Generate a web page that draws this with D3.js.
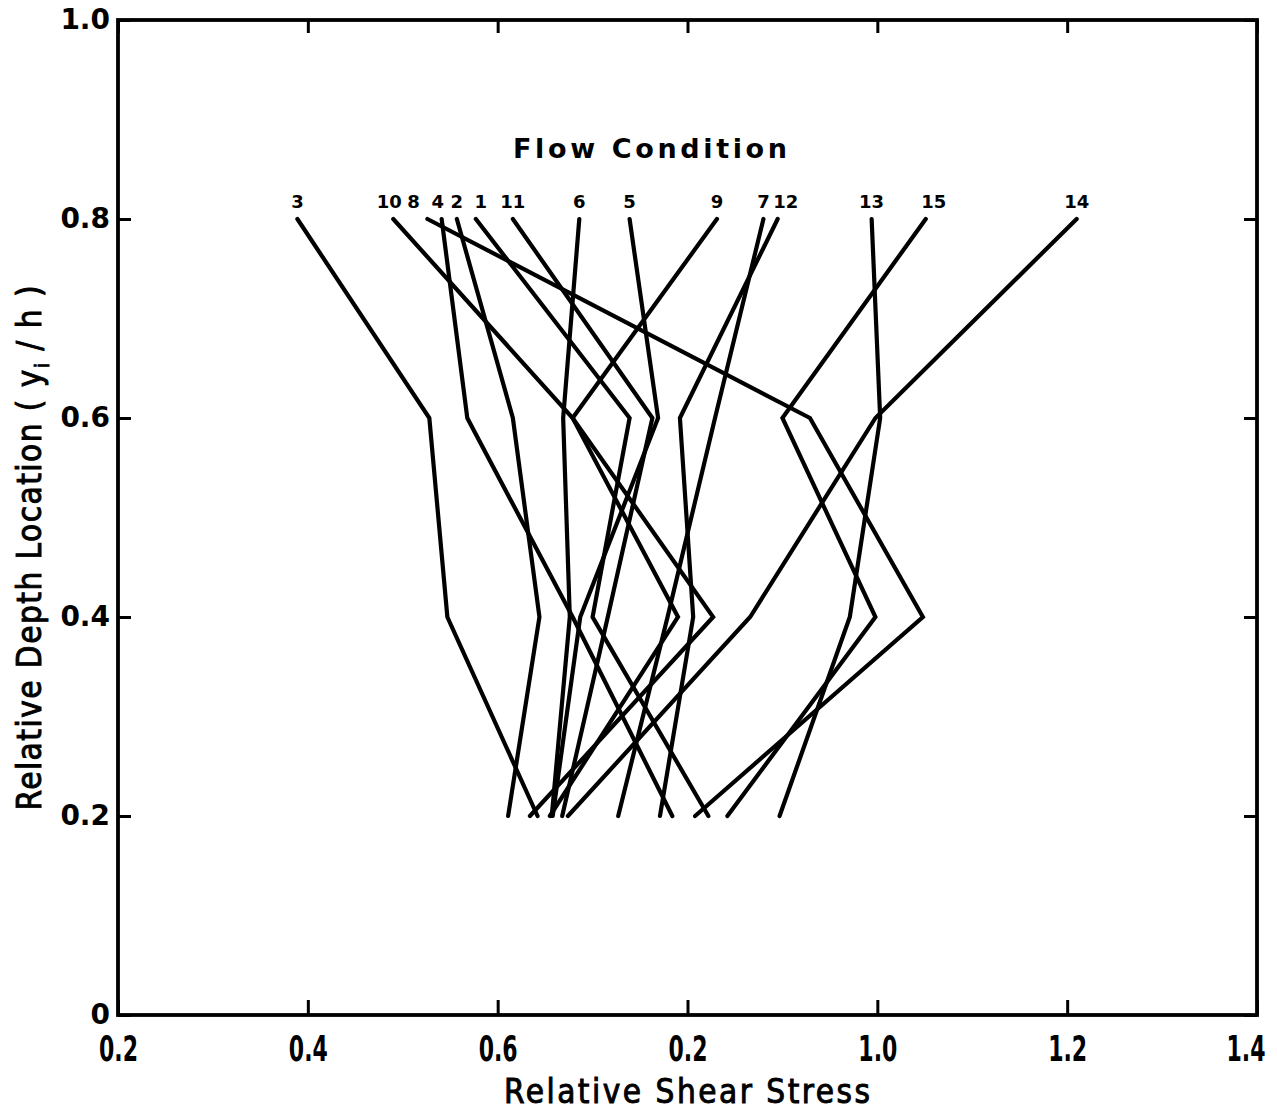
<!DOCTYPE html>
<html>
<head>
<meta charset="utf-8">
<script src="https://cdn.jsdelivr.net/npm/d3@7/dist/d3.min.js"></script>
<style>
  body { margin: 0; background: #fff; }
  text { fill: #000; }
</style>
</head>
<body>
<script>
// depth levels (y_i / h) where shear stress was measured, top to bottom
var depths = [0.8, 0.6, 0.4, 0.2];

// relative shear stress for each flow condition, one value per depth
var cond1  = [0.577, 0.739, 0.700, 0.822];
var cond2  = [0.557, 0.616, 0.644, 0.611];
var cond3  = [0.389, 0.528, 0.547, 0.642];
var cond4  = [0.541, 0.568, 0.679, 0.784];
var cond5  = [0.739, 0.769, 0.687, 0.658];
var cond6  = [0.686, 0.669, 0.676, 0.657];
var cond7  = [0.880, 0.829, 0.779, 0.727];
var cond8  = [0.526, 0.929, 1.048, 0.808];
var cond9  = [0.831, 0.679, 0.790, 0.655];
var cond10 = [0.490, 0.679, 0.827, 0.634];
var cond11 = [0.616, 0.763, 0.716, 0.668];
var cond12 = [0.895, 0.792, 0.806, 0.771];
var cond13 = [0.994, 1.003, 0.971, 0.897];
var cond14 = [1.210, 0.998, 0.866, 0.674];
var cond15 = [1.051, 0.900, 0.998, 0.842];

var condNames = ["1","2","3","4","5","6","7","8","9","10","11","12","13","14","15"];
var condValues = [cond1, cond2, cond3, cond4, cond5, cond6, cond7, cond8,
                  cond9, cond10, cond11, cond12, cond13, cond14, cond15];

// axis ticks (the x labels are printed as in the original figure)
var xTicks = [0.2, 0.4, 0.6, 0.8, 1.0, 1.2, 1.4];
var xTickLabels = ["0.2", "0.4", "0.6", "0.2", "1.0", "1.2", "1.4"];
var yTicks = [0, 0.2, 0.4, 0.6, 0.8, 1.0];
var yTickLabels = ["0", "0.2", "0.4", "0.6", "0.8", "1.0"];

var W = 1277, H = 1113;
var margin = {top: 20, right: 20, bottom: 98, left: 118};

var svg = d3.select("body").append("svg")
  .attr("width", W)
  .attr("height", H);

var x = d3.scaleLinear().domain([0.2, 1.4]).range([margin.left, W - margin.right]);
var y = d3.scaleLinear().domain([0, 1.0]).range([H - margin.bottom, margin.top]);

// build series table
var series = condNames.map(function(name, i) {
  return {name: name, points: depths.map(function(d, j) { return {depth: d, stress: condValues[i][j]}; })};
});

var line = d3.line()
  .x(function(d) { return x(d.stress); })
  .y(function(d) { return y(d.depth); });

// curves
svg.append("g").selectAll("path")
  .data(series)
  .enter().append("path")
  .attr("d", function(d) { return line(d.points); })
  .attr("fill", "none")
  .attr("stroke", "#000")
  .attr("stroke-width", 4.2)
  .attr("stroke-linejoin", "miter")
  .attr("stroke-linecap", "round");

// labels above curve tops; a few are nudged sideways like in the figure
var labelNudge = {"8": -14, "1": 5, "12": 8, "15": 8, "10": -4, "4": -4};
svg.append("g").selectAll("text")
  .data(series)
  .enter().append("text")
  .attr("x", function(d) { return x(d.points[0].stress) + (labelNudge[d.name] || 0); })
  .attr("y", y(0.8) - 11)
  .attr("text-anchor", "middle")
  .style("font-family", "'DejaVu Sans', sans-serif")
  .style("font-weight", "bold")
  .style("font-size", "18px")
  .text(function(d) { return d.name; });

svg.append("text")
  .attr("x", 650)
  .attr("y", 158)
  .attr("text-anchor", "middle")
  .attr("textLength", 274)
  .attr("lengthAdjust", "spacing")
  .style("font-family", "'DejaVu Sans', sans-serif")
  .style("font-weight", "bold")
  .style("font-size", "27px")
  .text("Flow  Condition");

// frame
svg.append("rect")
  .attr("x", x(0.2)).attr("y", y(1.0))
  .attr("width", x(1.4) - x(0.2))
  .attr("height", y(0) - y(1.0))
  .attr("fill", "none")
  .attr("stroke", "#000")
  .attr("stroke-width", 3.8);

function styleAxis(g) {
  g.select(".domain").remove();
  g.selectAll(".tick line").attr("stroke", "#000").attr("stroke-width", 3);
}

var xAxis = svg.append("g")
  .attr("transform", "translate(0," + y(0) + ")")
  .call(d3.axisBottom(x).tickValues(xTicks)
    .tickFormat(function(d, i) { return xTickLabels[i]; })
    .tickSizeInner(-15).tickSizeOuter(0).tickPadding(20))
  .call(styleAxis);
xAxis.selectAll("text")
  .style("font-family", "'Liberation Sans Narrow', 'DejaVu Sans Condensed', sans-serif")
  .style("font-weight", "bold")
  .style("font-size", "36px")
  .attr("textLength", 39)
  .attr("lengthAdjust", "spacingAndGlyphs");
// keep the last label inside the page
xAxis.selectAll(".tick text").filter(function(d) { return d === 1.4; })
  .attr("text-anchor", "end")
  .attr("dx", 8);

svg.append("g")
  .attr("transform", "translate(0," + y(1.0) + ")")
  .call(d3.axisTop(x).tickValues(xTicks).tickFormat("").tickSizeInner(-13).tickSizeOuter(0))
  .call(styleAxis);

var yAxis = svg.append("g")
  .attr("transform", "translate(" + x(0.2) + ",0)")
  .call(d3.axisLeft(y).tickValues(yTicks)
    .tickFormat(function(d, i) { return yTickLabels[i]; })
    .tickSizeInner(-13).tickSizeOuter(0).tickPadding(8))
  .call(styleAxis);
yAxis.selectAll("text")
  .style("font-family", "'DejaVu Sans', sans-serif")
  .style("font-weight", "bold")
  .style("font-size", "28px");

svg.append("g")
  .attr("transform", "translate(" + x(1.4) + ",0)")
  .call(d3.axisRight(y).tickValues(yTicks).tickFormat("").tickSizeInner(-13).tickSizeOuter(0))
  .call(styleAxis);

// axis titles
svg.append("text")
  .attr("x", 687)
  .attr("y", 1103)
  .attr("text-anchor", "middle")
  .attr("textLength", 366)
  .attr("lengthAdjust", "spacing")
  .style("font-family", "'Liberation Sans Narrow', 'DejaVu Sans Condensed', sans-serif")
  .style("font-size", "33px")
  .style("stroke", "#000")
  .style("stroke-width", "0.9px")
  .text("Relative Shear Stress");

var yTitle = svg.append("text")
  .attr("transform", "translate(41,548) rotate(-90)")
  .attr("text-anchor", "middle")
  .attr("textLength", 525)
  .attr("lengthAdjust", "spacing")
  .style("font-family", "'Liberation Sans Narrow', 'DejaVu Sans Condensed', sans-serif")
  .style("font-size", "33px")
  .style("stroke", "#000")
  .style("stroke-width", "0.9px");
yTitle.append("tspan").text("Relative Depth Location ( y");
yTitle.append("tspan").attr("dy", 8).style("font-size", "20px").text("i");
yTitle.append("tspan").attr("dy", -8).text(" / h )");
</script>
</body>
</html>
